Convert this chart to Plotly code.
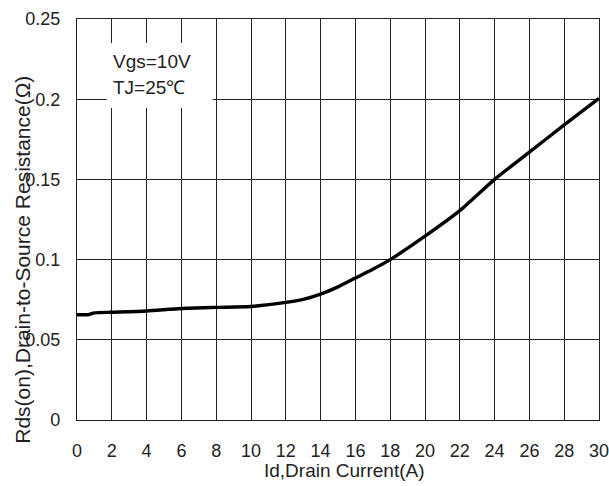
import plotly.graph_objects as go

# Data
drain_current = [0, 0.7, 1, 2, 4, 6, 8, 10, 12, 13, 14, 15, 16, 17, 18, 20, 22, 24, 26, 28, 30]
rds_on = [0.0656, 0.0658, 0.0668, 0.0672, 0.0680, 0.0695, 0.0702, 0.0708, 0.0733, 0.0752, 0.0785, 0.0830, 0.0885, 0.0940, 0.1000, 0.1146, 0.1305, 0.1500, 0.1670, 0.1840, 0.2005]
x_ticks = list(range(0, 31, 2))
y_ticks = [0, 0.05, 0.1, 0.15, 0.2, 0.25]
y_tick_labels = ["0", "0.05", "0.1", "0.15", "0.2", "0.25"]

FONT = "Liberation Sans, Arial, sans-serif"

fig = go.Figure()
fig.add_trace(go.Scatter(
    x=drain_current, y=rds_on, mode="lines",
    line=dict(color="black", width=3.4, shape="spline", smoothing=0.6),
    showlegend=False, hoverinfo="skip"))

fig.update_layout(
    width=609, height=486,
    margin=dict(l=77, r=10, t=19, b=66),
    paper_bgcolor="white", plot_bgcolor="white",
    font=dict(family=FONT, size=18, color="#222"),
    xaxis=dict(range=[0, 30], tickvals=x_ticks, showgrid=True, gridcolor="#222",
               gridwidth=1, showline=True, linecolor="#222", linewidth=1.2, mirror=True,
               zeroline=False, ticks="", ticklabelstandoff=14, automargin=False,
               ticklabeloverflow="allow"),
    yaxis=dict(range=[0, 0.25], tickvals=y_ticks, ticktext=y_tick_labels, showgrid=True,
               gridcolor="#222", gridwidth=1, showline=True, linecolor="#222", linewidth=1.2,
               mirror=True, zeroline=False, ticks="", ticklabelstandoff=12, automargin=False,
               ticklabeloverflow="allow"),
)

# axis titles
fig.add_annotation(text="Id,Drain Current(A)", xref="paper", yref="paper", x=0.5125, y=-0.127,
                   xanchor="center", yanchor="middle", showarrow=False, font=dict(size=19))
fig.add_annotation(text="Rds(on),Drain-to-Source Resistance(Ω)", xref="paper", yref="paper",
                   x=-0.105, y=0.400, xanchor="center", yanchor="middle", textangle=-90,
                   showarrow=False, font=dict(size=21))

# condition box
fig.add_shape(type="rect", xref="paper", yref="paper", x0=0.057, x1=0.26, y0=0.778, y1=0.94,
              fillcolor="white", line=dict(width=0), layer="above")
fig.add_annotation(text="Vgs=10V", xref="paper", yref="paper", x=0.066, y=0.893,
                   xanchor="left", yanchor="middle", showarrow=False, font=dict(size=19))
fig.add_annotation(text="TJ=25℃", xref="paper", yref="paper", x=0.066, y=0.828,
                   xanchor="left", yanchor="middle", showarrow=False, font=dict(size=19))

fig.write_html("out.html")
